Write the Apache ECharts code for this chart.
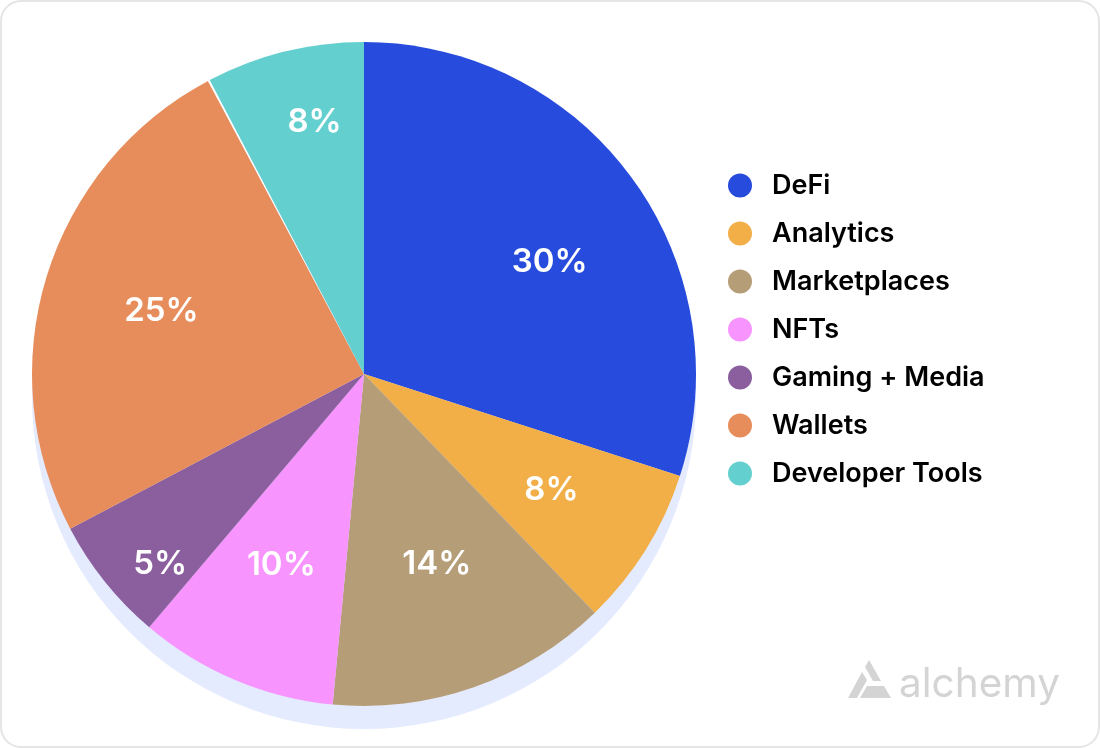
<!DOCTYPE html>
<html>
<head>
<meta charset="utf-8">
<style>
  html, body { margin: 0; padding: 0; background: #fff; }
  #main { width: 1100px; height: 748px; }
</style>
<script src="https://cdn.jsdelivr.net/npm/echarts@6/dist/echarts.min.js"></script>
</head>
<body>
<div id="main"></div>
<script>
var categories = ["DeFi", "Analytics", "Marketplaces", "NFTs", "Gaming + Media", "Wallets", "Developer Tools"];
var shares = [30, 7.8, 13.75, 9.7, 6.1, 24.95, 7.7]; // slice sizes
var shareLabels = ["30%", "8%", "14%", "10%", "5%", "25%", "8%"]; // printed labels
var gapShare = 0.09; // thin white sliver between wallets and developer tools
var colors = ["#264BDD", "#F2AE47", "#B59D78", "#F794FE", "#8B5F9E", "#E78D5B", "#64CFCF"];

var labelOffsets = [[49, -12], [44, 27], [17, 31], [-17, 35], [-72, 84], [-41, -13], [-9, -88]];
var labelFont = "Inter, 'Noto Sans', sans-serif";

var myChart = echarts.init(document.getElementById("main"), null, { renderer: "canvas" });

var sliceData = [];
for (let i = 0; i < categories.length; i++) {
  if (i == categories.length - 1) {
    sliceData.push({
      name: "gap",
      value: gapShare,
      itemStyle: { color: "#fff" },
      label: { show: false }
    });
  }
  sliceData.push({
    name: categories[i],
    value: shares[i],
    itemStyle: { color: colors[i] },
    label: { formatter: shareLabels[i], offset: labelOffsets[i] }
  });
}

var option = {
  animation: false,
  backgroundColor: "#fff",
  legend: {
    orient: "vertical",
    left: 723,
    top: 167,
    data: categories,
    icon: "circle",
    itemWidth: 24,
    itemHeight: 24,
    itemGap: 21,
    selectedMode: false,
    textStyle: {
      color: "#000",
      fontFamily: labelFont,
      fontSize: 27,
      fontWeight: 600,
      lineHeight: 24,
      padding: [0, 0, 0, 15]
    }
  },
  graphic: [
    {
      type: "rect",
      z: -1,
      shape: { x: 1, y: 1, width: 1098, height: 746, r: 20 },
      style: { fill: "#fff", stroke: "#E5E5E5", lineWidth: 2 }
    },
    { type: "polygon", shape: { points: [[869, 660], [881, 681], [873, 681], [865, 667]] }, style: { fill: "#D4D4D4" } },
    { type: "polygon", shape: { points: [[862, 672], [867, 680], [857, 698], [848, 698]] }, style: { fill: "#D4D4D4" } },
    { type: "polygon", shape: { points: [[867, 686], [884, 686], [891, 698], [860, 698]] }, style: { fill: "#D4D4D4" } },
    {
      type: "text",
      left: 899,
      top: 664,
      style: { text: "alchemy", fill: "#D4D4D4", font: "400 40.5px " + labelFont }
    }
  ],
  series: [
    {
      // pale disc showing under the pie
      type: "pie",
      silent: true,
      center: [364, 397],
      radius: 332,
      z: 1,
      label: { show: false },
      labelLine: { show: false },
      itemStyle: { color: "#E5EBFE" },
      data: [{ name: "backdrop", value: 1 }]
    },
    {
      type: "pie",
      silent: true,
      center: [364, 374],
      radius: 332,
      startAngle: 90,
      clockwise: true,
      z: 2,
      label: {
        show: true,
        position: "inside",
        color: "#fff",
        fontFamily: labelFont,
        fontSize: 33,
        fontWeight: 600
      },
      labelLine: { show: false },
      data: sliceData
    }
  ]
};
myChart.setOption(option);
</script>
</body>
</html>
